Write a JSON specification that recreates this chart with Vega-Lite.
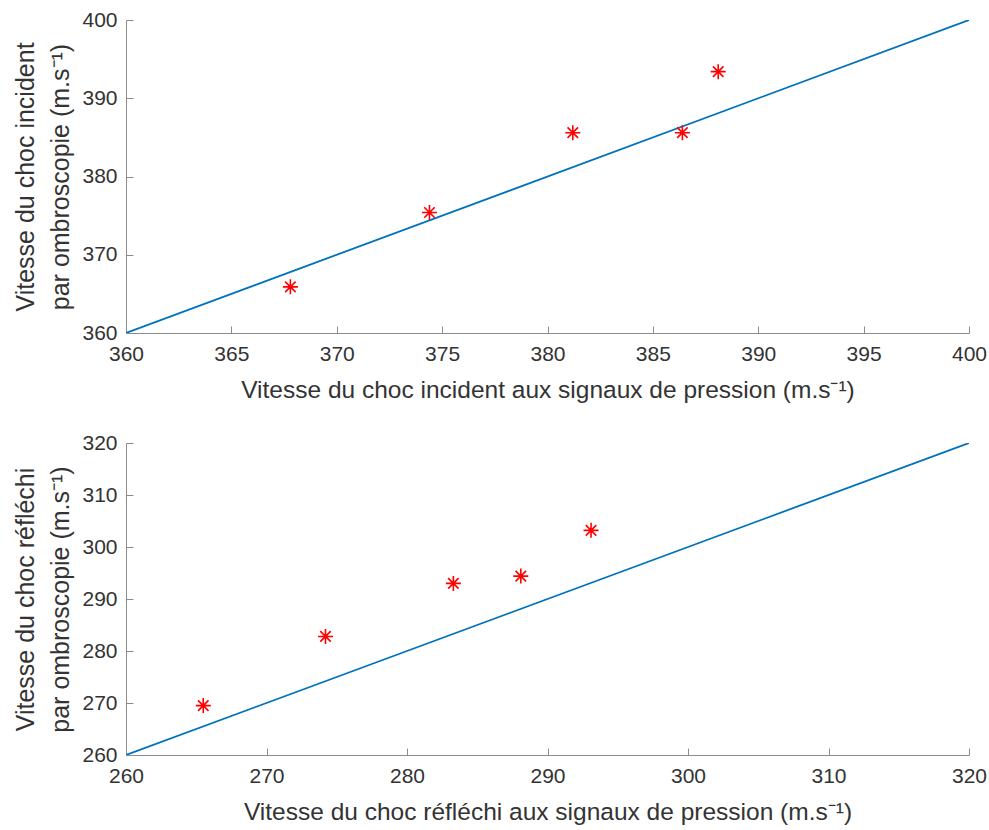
{
  "$schema": "https://vega.github.io/schema/vega-lite/v6.json",
  "background": "white",
  "padding": {"left": 13, "top": 9, "right": 2, "bottom": 2},
  "spacing": 30,
  "datasets": {
    "line1": [{"x": 360, "y": 360}, {"x": 400, "y": 400}],
    "pts1": [
      {"x": 367.8, "y": 365.9},
      {"x": 374.4, "y": 375.4},
      {"x": 381.2, "y": 385.6},
      {"x": 386.4, "y": 385.6},
      {"x": 388.1, "y": 393.4}
    ],
    "line2": [{"x": 260, "y": 260}, {"x": 320, "y": 320}],
    "pts2": [
      {"x": 265.5, "y": 269.5},
      {"x": 274.2, "y": 282.8},
      {"x": 283.3, "y": 293.0},
      {"x": 288.1, "y": 294.4},
      {"x": 293.1, "y": 303.2}
    ]
  },
  "vconcat": [
    {
      "width": 843,
      "height": 313,
      "encoding": {
        "x": {"field": "x", "type": "quantitative", "scale": {"domain": [360, 400], "nice": false, "zero": false},
          "axis": {"values": [360, 365, 370, 375, 380, 385, 390, 395, 400], "title": "Vitesse du choc incident aux signaux de pression (m.s⁻¹)"}},
        "y": {"field": "y", "type": "quantitative", "scale": {"domain": [360, 400], "nice": false, "zero": false},
          "axis": {"values": [360, 370, 380, 390, 400], "title": ["Vitesse du choc incident", "par ombroscopie (m.s⁻¹)"]}}
      },
      "layer": [
        {"data": {"name": "line1"}, "mark": {"type": "line", "color": "#0072BD", "strokeWidth": 1.8, "clip": true}},
        {"data": {"name": "pts1"}, "mark": {"type": "point", "shape": "M0,-1L0,1M-1,0L1,0M-0.7,-0.7L0.7,0.7M-0.7,0.7L0.7,-0.7", "filled": false, "color": "#FF0000", "strokeWidth": 1.6, "size": 225, "opacity": 1}}
      ]
    },
    {
      "width": 843,
      "height": 312,
      "encoding": {
        "x": {"field": "x", "type": "quantitative", "scale": {"domain": [260, 320], "nice": false, "zero": false},
          "axis": {"values": [260, 270, 280, 290, 300, 310, 320], "title": "Vitesse du choc réfléchi aux signaux de pression (m.s⁻¹)"}},
        "y": {"field": "y", "type": "quantitative", "scale": {"domain": [260, 320], "nice": false, "zero": false},
          "axis": {"values": [260, 270, 280, 290, 300, 310, 320], "title": ["Vitesse du choc réfléchi", "par ombroscopie (m.s⁻¹)"]}}
      },
      "layer": [
        {"data": {"name": "line2"}, "mark": {"type": "line", "color": "#0072BD", "strokeWidth": 1.8, "clip": true}},
        {"data": {"name": "pts2"}, "mark": {"type": "point", "shape": "M0,-1L0,1M-1,0L1,0M-0.7,-0.7L0.7,0.7M-0.7,0.7L0.7,-0.7", "filled": false, "color": "#FF0000", "strokeWidth": 1.6, "size": 225, "opacity": 1}}
      ]
    }
  ],
  "config": {
    "view": {"stroke": null},
    "font": "Liberation Sans",
    "axis": {
      "grid": false,
      "domainColor": "#8c8c8c",
      "tickColor": "#8c8c8c",
      "domainWidth": 1,
      "tickWidth": 1,
      "tickSize": -7,
      "labelFont": "Liberation Sans",
      "labelFontSize": 21,
      "labelColor": "#333333",
      "titleFont": "Liberation Sans",
      "titleColor": "#333333",
      "titleFontWeight": "normal",
      "labelFlush": false,
      "labelOverlap": false
    },
    "axisX": {"labelPadding": 17, "titlePadding": 14, "titleFontSize": 24.5},
    "axisY": {"labelPadding": 16, "titlePadding": 8, "titleFontSize": 25, "titleLineHeight": 35}
  }
}
